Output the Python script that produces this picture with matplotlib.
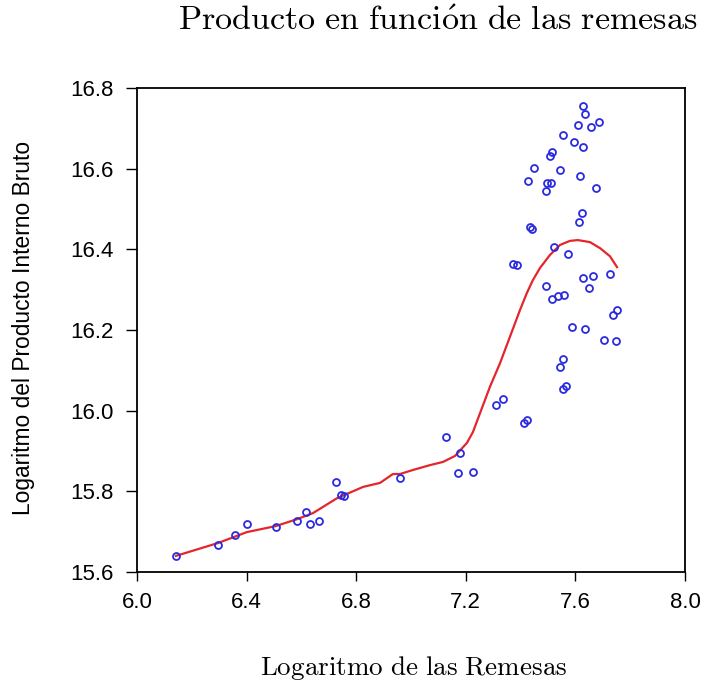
import matplotlib
matplotlib.use('Agg')
import matplotlib.pyplot as plt

plt.rcParams['font.family'] = ['Liberation Sans', 'DejaVu Sans']
plt.rcParams['mathtext.fontset'] = 'cm'

# scatter: log remittances vs log GDP
remesas = [6.141, 6.297, 6.357, 6.400, 6.506, 6.584, 6.616, 6.631, 6.664, 6.727,
           6.743, 6.755, 6.961, 7.127, 7.179, 7.170, 7.226, 7.310, 7.335, 7.411,
           7.423, 7.554, 7.565, 7.545, 7.555, 7.705, 7.748, 7.586, 7.635, 7.736,
           7.751, 7.515, 7.536, 7.559, 7.494, 7.648, 7.628, 7.663, 7.727, 7.371,
           7.386, 7.573, 7.523, 7.434, 7.440, 7.612, 7.623, 7.492, 7.675, 7.495,
           7.511, 7.426, 7.617, 7.544, 7.450, 7.506, 7.514, 7.628, 7.595, 7.554,
           7.609, 7.657, 7.687, 7.634, 7.627]
pib = [15.640, 15.668, 15.692, 15.719, 15.711, 15.726, 15.748, 15.719, 15.727, 15.823,
       15.791, 15.788, 15.834, 15.935, 15.894, 15.845, 15.847, 16.014, 16.028, 15.970,
       15.976, 16.055, 16.061, 16.108, 16.127, 16.176, 16.173, 16.207, 16.203, 16.237,
       16.250, 16.278, 16.284, 16.287, 16.308, 16.303, 16.328, 16.333, 16.340, 16.364,
       16.362, 16.388, 16.405, 16.456, 16.450, 16.467, 16.491, 16.545, 16.553, 16.564,
       16.565, 16.569, 16.581, 16.596, 16.601, 16.631, 16.641, 16.653, 16.667, 16.683,
       16.708, 16.703, 16.716, 16.735, 16.755]

# smoothed fit (red line)
fit_x = [6.142, 6.296, 6.401, 6.507, 6.584, 6.642, 6.730, 6.825, 6.887, 6.934,
         6.960, 7.007, 7.069, 7.117, 7.161, 7.204, 7.226, 7.252, 7.288, 7.325,
         7.361, 7.398, 7.423, 7.445, 7.471, 7.507, 7.544, 7.580, 7.609, 7.653,
         7.690, 7.726, 7.752]
fit_y = [15.640, 15.672, 15.699, 15.714, 15.731, 15.746, 15.783, 15.811, 15.821, 15.843,
         15.843, 15.853, 15.865, 15.873, 15.888, 15.920, 15.947, 15.994, 16.059, 16.118,
         16.183, 16.250, 16.292, 16.324, 16.354, 16.386, 16.411, 16.421, 16.423, 16.418,
         16.403, 16.383, 16.356]

fig = plt.figure(figsize=(7.04, 6.84), dpi=100)
ax = fig.add_axes([0.1946, 0.1637, 0.7784, 0.7076])

ax.plot(remesas, pib, 'o', markersize=5, markerfacecolor='none',
        markeredgecolor='#2a2ae0', markeredgewidth=1.3, zorder=3)
ax.plot(fit_x, fit_y, color='#e4262c', linewidth=1.6, zorder=2,
        solid_joinstyle='round')

ax.set_xlim(6.0, 8.0)
ax.set_ylim(15.6, 16.8)
ax.set_xticks([6.0, 6.4, 6.8, 7.2, 7.6, 8.0])
ax.set_yticks([15.6, 15.8, 16.0, 16.2, 16.4, 16.6, 16.8])
ax.tick_params(direction='out', width=1, labelsize=16)
ax.tick_params(axis='x', length=6.5, pad=8)
ax.tick_params(axis='y', length=8, pad=9)
for s in ax.spines.values():
    s.set_linewidth(1.3)

fig.text(438 / 704, 1 - 22 / 684,
         r'$\mathrm{Producto\ en\ funci\acute{o}n\ de\ las\ remesas}$',
         ha='center', va='center', fontsize=24.5)
fig.text(414 / 704, 1 - 668 / 684, r'$\mathrm{Logaritmo\ de\ las\ Remesas}$',
         ha='center', va='center', fontsize=19.5)
fig.text(24 / 704, 1 - 328 / 684, 'Logaritmo del Producto Interno Bruto',
         ha='center', va='center', rotation=90, fontsize=16.4)

fig.savefig('out.png', dpi=100)
